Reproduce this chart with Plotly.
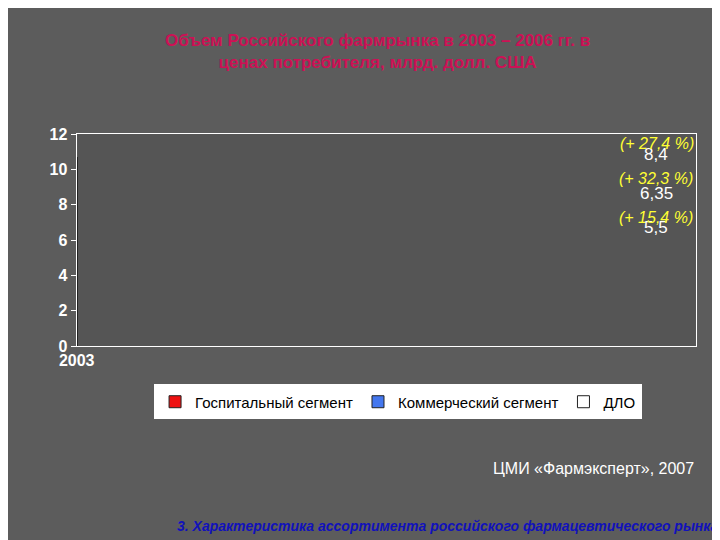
import plotly.graph_objects as go

years = ["2003", "2004", "2005", "2006"]
hosp = [1.1, 1.27, 1.4, 1.5]
comm = [4.4, 5.08, 5.6, 6.7]
dlo = [0, 0, 1.4, 2.5]
totals = ["5,5", "6,35", "8,4", "10,7"]
growth = ["", "(+ 15,4 %)", "(+ 32,3 %)", "(+ 27,4 %)"]
hosp_lbl = ["1,1", "1,27", "1,4", "1,5"]
comm_lbl = ["4,4", "5,08", "5,6", "6,7"]
dlo_lbl = ["", "", "1,4", "2,5"]

fig = go.Figure()
fig.add_bar(x=years, y=hosp, name="Госпитальный сегмент", marker=dict(color="#ee1111", line=dict(color="#222", width=1)),
            text=hosp_lbl, textposition="inside", insidetextanchor="middle",
            textfont=dict(color="white", size=16, family="Liberation Sans"))
fig.add_bar(x=years, y=comm, name="Коммерческий сегмент", marker=dict(color="#4477ee", line=dict(color="#222", width=1)),
            text=comm_lbl, textposition="inside", insidetextanchor="middle",
            textfont=dict(color="white", size=16, family="Liberation Sans"))
fig.add_bar(x=years, y=dlo, name="ДЛО", marker=dict(color="white", line=dict(color="#222", width=1)),
            text=dlo_lbl, textposition="inside", insidetextanchor="middle",
            textfont=dict(color="black", size=16, family="Liberation Sans"))

tot_y = [6.7, 8.65, 10.85, 13.0]
gr_y = [None, 7.3, 9.5, 11.5]
for i, yr in enumerate(years):
    fig.add_annotation(x=yr, y=tot_y[i], text=totals[i], showarrow=False,
                       font=dict(color="white", size=17, family="Liberation Sans"))
    if growth[i]:
        fig.add_annotation(x=yr, y=gr_y[i], text="<i>" + growth[i] + "</i>", showarrow=False,
                           font=dict(color="#ffff33", size=16, family="Liberation Sans"))

fig.add_annotation(xref="paper", yref="paper", x=0.5, y=0.975, yanchor="top", showarrow=False,
                   text="<b>Объем Российского фармрынка в 2003 – 2006 гг. в<br>ценах потребителя, млрд. долл. США</b>",
                   font=dict(color="#cc1155", size=17, family="Liberation Sans"))
fig.add_annotation(xref="paper", yref="paper", x=0.955, y=0.115, xanchor="right", showarrow=False,
                   text="ЦМИ «Фармэксперт», 2007", font=dict(color="white", size=16, family="Liberation Sans"))
fig.add_annotation(xref="paper", yref="paper", x=0.99, y=0.005, xanchor="right", yanchor="bottom", showarrow=False,
                   text="<b><i>3. Характеристика ассортимента российского фармацевтического рынка</i></b>",
                   font=dict(color="#1111bb", size=14, family="Liberation Sans"))

fig.update_layout(
    barmode="stack", bargap=0.34, width=720, height=540,
    paper_bgcolor="#5c5c5c", plot_bgcolor="#555555",
    margin=dict(l=0, r=0, t=0, b=0),
    showlegend=True,
    legend=dict(orientation="h", x=0.53, xanchor="center", y=0.262, yanchor="middle",
                bgcolor="white", bordercolor="white", borderwidth=1,
                font=dict(color="black", size=15, family="Liberation Sans"), traceorder="normal"),
    xaxis=dict(domain=[0.072, 0.954], showline=True, linecolor="white", mirror=True,
               tickfont=dict(color="white", size=16, family="Liberation Sans"), ticks="",
               tickprefix="<b>", ticksuffix="</b>"),
    yaxis=dict(domain=[0.369, 0.774], range=[0, 12], dtick=2, showgrid=False, zeroline=False,
               showline=True, linecolor="white", mirror=True, ticks="outside", tickcolor="white",
               tickfont=dict(color="white", size=16, family="Liberation Sans"),
               tickprefix="<b>", ticksuffix="</b>"),
)
fig.update_traces(cliponaxis=False)
fig.write_html("out.html")
